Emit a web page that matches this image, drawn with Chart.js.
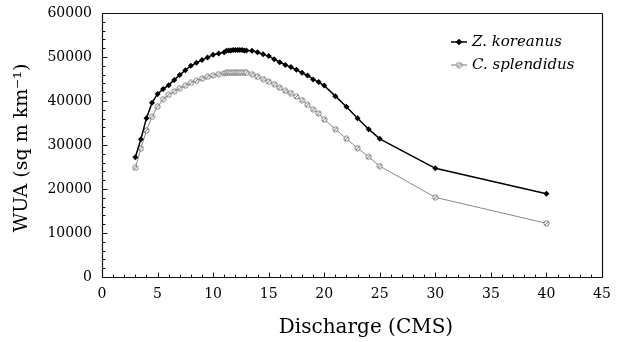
<!DOCTYPE html>
<html>
<head>
<meta charset="utf-8">
<script src="https://cdn.jsdelivr.net/npm/chart.js@4/dist/chart.umd.min.js"></script>
<style>
html,body{margin:0;padding:0;background:#fff;}
canvas{display:block;}
</style>
</head>
<body>
<canvas id="c" width="624" height="342"></canvas>
<script>
// ---- data ----
const discharge = [3,3.5,4,4.5,5,5.5,6,6.5,7,7.5,8,8.5,9,9.5,10,10.5,11,
  11.2,11.4,11.6,11.8,12,12.2,12.4,12.6,12.8,13,
  13.5,14,14.5,15,15.5,16,16.5,17,17.5,18,18.5,19,19.5,20,
  21,22,23,24,25,30,40];
const koreanus = [27200,31300,36100,39600,41600,42700,43600,44800,45900,47000,48000,48700,49300,49900,50500,50800,51100,
  51400,51500,51500,51600,51600,51600,51600,51600,51500,51500,
  51400,51100,50600,50200,49500,48800,48200,47700,47100,46400,45800,44900,44300,43500,
  41100,38700,36100,33600,31400,24700,18900];
const splendidus = [24800,29200,33300,36400,38700,40400,41400,42200,42900,43500,44100,44600,45100,45500,45800,46100,46300,
  46400,46400,46400,46400,46400,46400,46400,46400,46400,46400,
  46100,45500,45000,44400,43800,43000,42300,41800,41000,40200,39100,38100,37200,35800,
  33600,31400,29300,27300,25200,18100,12200];
const seriesNames = ['Z. koreanus', 'C. splendidus'];
const xTicks = [0,5,10,15,20,25,30,35,40,45];
const yTicks = [0,10000,20000,30000,40000,50000,60000];
const xMinorStep = 1;
const yMinorStep = 2000;
const xTitle = 'Discharge (CMS)';
const yTitle = 'WUA (sq m km\u207B\u00B9)';

// ---- marker for C. splendidus ----
const cMark = document.createElement('canvas');
cMark.width = 7; cMark.height = 7;
(function(){
  const g = cMark.getContext('2d');
  g.fillStyle = '#fff'; g.strokeStyle = '#666'; g.lineWidth = 0.9;
  g.beginPath(); g.arc(3.5,3.5,2.6,0,Math.PI*2); g.fill(); g.stroke();
  g.beginPath(); g.moveTo(2,5); g.lineTo(5,2); g.stroke();
})();

const FONT = "'DejaVu Serif', 'Liberation Serif', serif";

const framePlugin = {
  id: 'frame',
  afterDraw(chart) {
    const ctx = chart.ctx;
    const a = chart.chartArea;
    const xs = chart.scales.x, ys = chart.scales.y;
    const L = Math.round(a.left) + 0.5, R = Math.round(a.right) + 0.5;
    const T = Math.round(a.top) + 0.5, B = Math.round(a.bottom) + 0.5;
    ctx.save();
    ctx.strokeStyle = '#111';
    ctx.lineWidth = 1.2;
    ctx.beginPath();
    ctx.moveTo(L, T); ctx.lineTo(R, T);
    ctx.moveTo(R, T); ctx.lineTo(R, B);
    ctx.moveTo(L, B); ctx.lineTo(R, B);
    ctx.moveTo(L, T); ctx.lineTo(L, B);
    ctx.stroke();
    ctx.lineWidth = 1;
    ctx.beginPath();
    for (let v = xs.min; v <= xs.max + 1e-9; v += xMinorStep) {
      const p = Math.round(xs.getPixelForValue(v)) + 0.5;
      const len = xTicks.includes(v) ? 5 : 3;
      ctx.moveTo(p, B); ctx.lineTo(p, B - len);
    }
    for (let v = ys.min; v <= ys.max + 1e-9; v += yMinorStep) {
      const p = Math.round(ys.getPixelForValue(v)) + 0.5;
      const len = yTicks.includes(v) ? 5 : 3;
      ctx.moveTo(L, p); ctx.lineTo(L + len, p);
    }
    ctx.stroke();

    // axis titles
    ctx.fillStyle = '#000';
    ctx.font = "20px " + FONT;
    ctx.textAlign = 'center';
    ctx.textBaseline = 'middle';
    ctx.fillText(xTitle, 366, 328);
    ctx.save();
    ctx.translate(22, 148);
    ctx.rotate(-Math.PI / 2);
    ctx.font = "19px " + FONT;
    ctx.fillText(yTitle, 0, 0);
    ctx.restore();

    // legend
    const items = [
      {y: 42, color: '#000', w: 1.5, mark: 'd'},
      {y: 65, color: '#777', w: 1, mark: 'c'}
    ];
    items.forEach((it, i) => {
      ctx.strokeStyle = it.color; ctx.lineWidth = it.w;
      ctx.beginPath(); ctx.moveTo(451, it.y); ctx.lineTo(467, it.y); ctx.stroke();
      if (it.mark === 'd') {
        ctx.fillStyle = '#000';
        ctx.beginPath();
        ctx.moveTo(459, it.y - 3.3); ctx.lineTo(462.3, it.y); ctx.lineTo(459, it.y + 3.3); ctx.lineTo(455.7, it.y);
        ctx.closePath(); ctx.fill();
      } else {
        ctx.drawImage(cMark, 459 - 3.5, it.y - 3.5);
      }
      ctx.fillStyle = '#000';
      ctx.font = "italic 15px " + FONT;
      ctx.textBaseline = 'middle';
      ctx.textAlign = 'left';
      ctx.fillText(seriesNames[i], 472, it.y);
    });
    ctx.restore();
  }
};

new Chart(document.getElementById('c'), {
  type: 'scatter',
  data: {
    datasets: [
      {
        label: seriesNames[0],
        data: discharge.map((x, i) => ({x: x, y: koreanus[i]})),
        showLine: true, borderColor: '#000', borderWidth: 1.5, backgroundColor: '#000',
        pointStyle: 'rectRot', pointRadius: 3, pointBorderWidth: 0, tension: 0
      },
      {
        label: seriesNames[1],
        data: discharge.map((x, i) => ({x: x, y: splendidus[i]})),
        showLine: true, borderColor: '#888', borderWidth: 1, backgroundColor: '#fff',
        pointStyle: cMark, pointRadius: 3, tension: 0
      }
    ]
  },
  options: {
    responsive: false,
    animation: false,
    devicePixelRatio: 1,
    layout: {padding: {top: 13, right: 22, left: 0, bottom: 0}},
    plugins: {legend: {display: false}, tooltip: {enabled: false}},
    scales: {
      x: {
        type: 'linear', min: 0, max: 45,
        afterFit(s) { s.height = 65; s.paddingLeft = 0; s.paddingRight = 0; },
        afterBuildTicks(s) { s.ticks = xTicks.map(v => ({value: v})); },
        grid: {display: false, drawTicks: false},
        border: {display: false},
        ticks: {color: '#000', padding: 9, font: {family: FONT, size: 14}, maxRotation: 0}
      },
      y: {
        type: 'linear', min: 0, max: 60000,
        afterFit(s) { s.width = 102; s.paddingTop = 0; s.paddingBottom = 0; },
        afterBuildTicks(s) { s.ticks = yTicks.map(v => ({value: v})); },
        grid: {display: false, drawTicks: false},
        border: {display: false},
        ticks: {color: '#000', padding: 10, font: {family: FONT, size: 14}, callback: v => String(v)}
      }
    }
  },
  plugins: [framePlugin]
});
</script>
</body>
</html>
